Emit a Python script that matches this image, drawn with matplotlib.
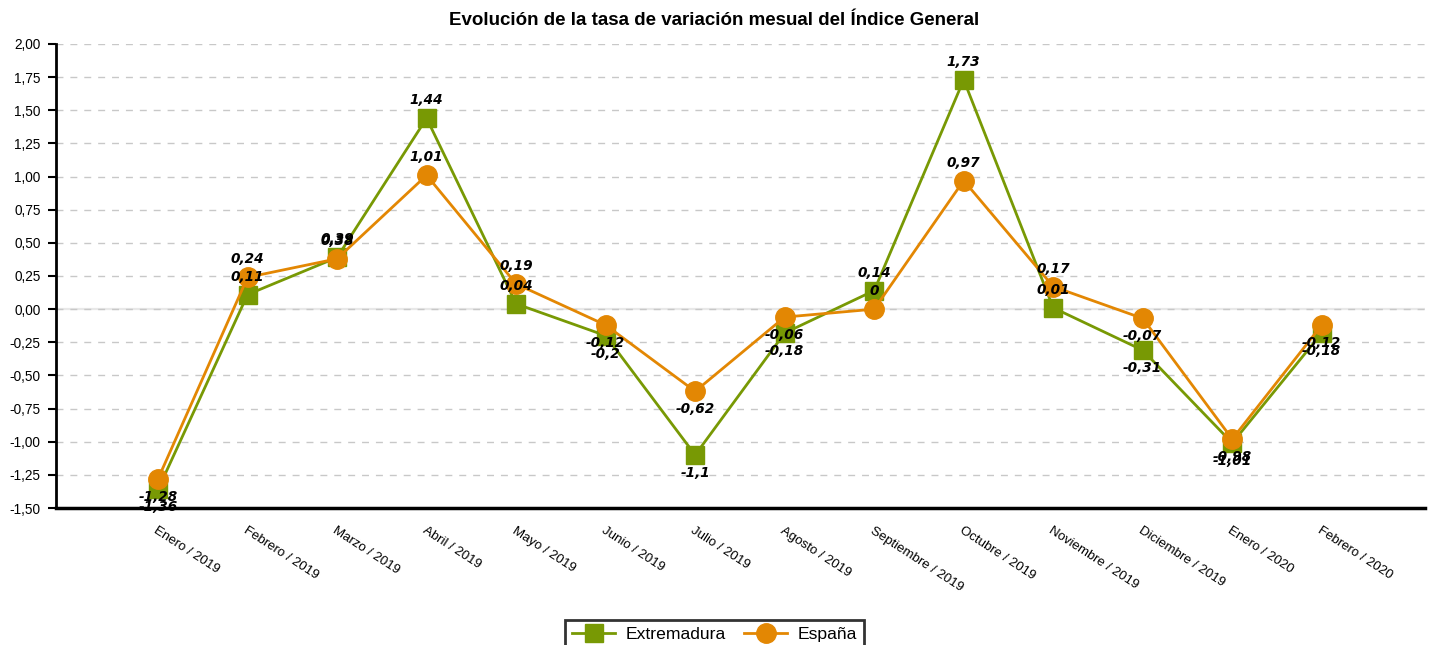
import matplotlib
matplotlib.use("Agg")
import matplotlib.pyplot as plt
from matplotlib.ticker import MultipleLocator, FuncFormatter

categories = ["Enero / 2019", "Febrero / 2019", "Marzo / 2019", "Abril / 2019", "Mayo / 2019",
              "Junio / 2019", "Julio / 2019", "Agosto / 2019", "Septiembre / 2019", "Octubre / 2019",
              "Noviembre / 2019", "Diciembre / 2019", "Enero / 2020", "Febrero / 2020"]
extremadura = [-1.36, 0.11, 0.39, 1.44, 0.04, -0.2, -1.1, -0.18, 0.14, 1.73, 0.01, -0.31, -1.01, -0.18]
espana = [-1.28, 0.24, 0.38, 1.01, 0.19, -0.12, -0.62, -0.06, 0, 0.97, 0.17, -0.07, -0.98, -0.12]

GREEN = "#789904"
ORANGE = "#e38703"

plt.rcParams['font.family'] = ['Liberation Sans', 'DejaVu Sans']

fig = plt.figure(figsize=(14.29, 6.45), dpi=100)
ax = fig.add_axes([0.0392, 0.2124, 0.9578, 0.7194])

x = list(range(len(categories)))
ax.set_xlim(-1.14, len(categories) - 1 + 1.15)
ax.set_ylim(-1.5, 2.0)

ax.yaxis.set_major_locator(MultipleLocator(0.25))
ax.yaxis.set_major_formatter(FuncFormatter(lambda v, p: f"{v:.2f}".replace('.', ',')))
ax.grid(axis='y', color='#c8c8c8', linestyle=(0, (5, 5)), linewidth=1)
ax.axhline(0, color='#e8e8e8', linewidth=1.6, zorder=1)

ax.plot(x, extremadura, color=GREEN, linewidth=2, marker='s', markersize=13,
        markerfacecolor=GREEN, markeredgecolor=GREEN, label='Extremadura', zorder=3)
ax.plot(x, espana, color=ORANGE, linewidth=2, marker='o', markersize=14,
        markerfacecolor=ORANGE, markeredgecolor=ORANGE, label='España', zorder=4)

def fmt(v):
    return f"{v:g}".replace('.', ',')

for series in (extremadura, espana):
    for xi, v in zip(x, series):
        off = 18 if v >= 0 else -18
        ax.annotate(fmt(v), (xi, v), xytext=(0, off), textcoords='offset pixels',
                    ha='center', va='center', fontsize=9.8, fontweight='bold', fontstyle='italic',
                    family='DejaVu Sans', color='black', zorder=6, annotation_clip=False)

ax.set_xticks(x)
ax.set_xticklabels(categories, rotation=-33, ha='left', va='top', rotation_mode='anchor', fontsize=9.5)
ax.tick_params(axis='x', length=0, pad=12)
ax.tick_params(axis='y', length=6, width=1.5, direction='out', labelsize=9.8, pad=5)

for s in ('top', 'right'):
    ax.spines[s].set_visible(False)
ax.spines['left'].set_linewidth(2)
ax.spines['bottom'].set_linewidth(2.5)

fig.suptitle("Evolución de la tasa de variación mesual del Índice General", y=0.982,
             fontsize=13.5, fontweight='bold')

leg = fig.legend(loc='upper center', bbox_to_anchor=(0.5, 0.052), ncol=2, fontsize=12.6,
                 frameon=True, fancybox=False, edgecolor='black', handlelength=2.5,
                 columnspacing=1.0, handletextpad=0.6, borderpad=0.4)
leg.get_frame().set_linewidth(2)

fig.savefig("out.png", dpi=100)
